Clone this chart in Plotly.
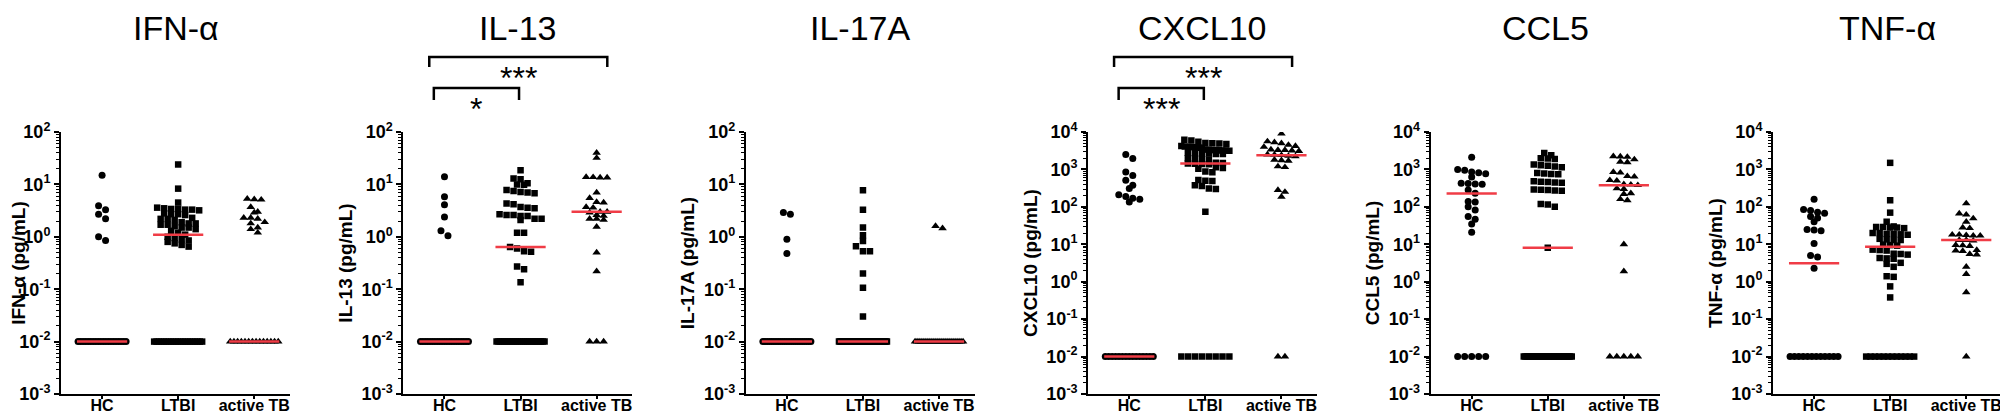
import numpy as np
import plotly.graph_objects as go

# groups on the x axis of every panel
groups = ["HC", "LTBI", "active TB"]
LOD = 0.01  # values below detection are plotted at 10^-2

# ---- IFN-alpha ----
ifna_hc = [15, 3.9, 3.3, 2.7, 2.2, 1.0, 0.85]
ifna_ltbi = [24, 8.3, 4.5, 3.6, 3.5, 3.4, 3.4, 3.3, 3.3, 3.2, 2.8, 2.7, 2.7, 2.6, 2.3,
             2.2, 2.2, 2.1, 1.9, 1.8, 1.8, 1.7, 1.7, 1.6, 1.5, 1.5, 1.4, 1.3, 1.2, 1.1,
             1.0, 0.95, 0.9, 0.85, 0.8, 0.75, 0.7, 0.65]
ifna_tb = [5.3, 5.2, 5.1, 3.7, 3.0, 2.9, 2.3, 2.3, 2.2, 1.9, 1.8, 1.5, 1.4, 1.2]
ifna_lod_n = [20, 21, 14]
ifna_median = [0.01, 1.1, 0.01]

# ---- IL-13 ----
il13_hc = [14, 5.8, 4.1, 2.4, 1.3, 1.05]
il13_ltbi = [18.6, 13, 12.5, 10.5, 10, 9.8, 7.8, 7.5, 7.2, 7, 6.8, 4.3, 4.2, 3.7, 3.6, 3.5,
             2.7, 2.6, 2.6, 2.5, 2.5, 2.2, 2.2, 2.1, 1.2, 1.2, 0.64, 0.6, 0.53, 0.52, 0.27,
             0.24, 0.135]
il13_tb = [40, 32, 13.8, 13.5, 13.5, 13.7, 7, 5.5, 4.6, 4.5, 3.7, 3.6, 3.0, 3.0, 2.9, 2.6,
           2.5, 2.2, 2.2, 2.1, 1.55, 0.5, 0.22]
il13_lod_n = [21, 26, 3]
il13_median = [0.01, 0.64, 3.0]

# ---- IL-17A ----
il17_hc = [2.9, 2.7, 0.9, 0.48]
il17_ltbi = [7.7, 3.3, 1.5, 1.07, 0.83, 0.66, 0.53, 0.53, 0.2, 0.107, 0.03]
il17_tb = [1.6, 1.45]
il17_lod_n = [23, 48, 25]
il17_median = [0.01, 0.01, 0.01]

# ---- CXCL10 ----
cxcl_hc = [2500, 1950, 860, 690, 510, 380, 310, 210, 190, 170, 160, 135]
cxcl_ltbi = [6200, 5900, 5500, 5100, 5000, 4900, 4800, 4200, 4100, 4000, 4000, 3900, 3800,
             3800, 3400, 3350, 3300, 3300, 3250, 3200, 3200, 3150, 2800, 2750, 2700, 2650,
             2600, 2600, 2000, 1950, 1900, 1850, 1500, 1480, 1450, 1420, 1400, 1380, 1150,
             1100, 1050, 880, 840, 520, 500, 490, 380, 360, 310, 300, 74]
cxcl_tb = [9000, 5600, 5300, 5000, 4500, 4200, 4000, 3400, 3300, 3300, 3200, 3100, 2500,
           2450, 2400, 2300, 2250, 1800, 1750, 1700, 1200, 1150, 280, 250, 185]
cxcl_lod_n = [15, 8, 2]
cxcl_median = [0.01, 1430, 2400]

# ---- CCL5 ----
ccl5_hc = [2100, 1000, 950, 860, 820, 770, 630, 430, 420, 410, 400, 280, 230, 140, 135, 100,
           82, 55, 47, 35, 21]
ccl5_ltbi = [2750, 2400, 2000, 1950, 1900, 1350, 1300, 1250, 1200, 1150, 800, 780, 760, 740,
             480, 470, 460, 450, 440, 290, 285, 280, 275, 270, 120, 115, 100, 8.1]
ccl5_tb = [2250, 2200, 2150, 1850, 1600, 1550, 850, 820, 660, 640, 515, 500, 400, 390, 380,
           310, 300, 230, 220, 160, 150, 10, 1.9]
ccl5_lod_n = [5, 30, 5]
ccl5_median = [228, 8.1, 380]

# ---- TNF-alpha ----
tnf_hc = [160, 85, 80, 72, 68, 55, 50, 40, 25, 24, 23, 10.5, 5, 4.6, 2.3]
tnf_ltbi = [1500, 150, 70, 40, 30, 29, 29, 28, 28, 27, 20, 20, 19, 19, 18.5, 18, 14, 13.5,
            13, 13, 9.8, 9.5, 9.2, 7.2, 7, 6.8, 5.6, 5.5, 5.3, 4.3, 4.2, 4.1, 3.2, 3.0, 2.5,
            1.4, 1.35, 0.75, 0.38]
tnf_tb = [123, 66, 62, 49, 40, 28, 27, 18, 18, 17.5, 17, 17, 13, 13, 12.5, 9.5, 9.3, 9, 7,
          6.8, 6.6, 5.5, 5.3, 2.5, 1.6, 0.52]
tnf_lod_n = [12, 12, 1]
tnf_median = [3.1, 8.6, 13]

# significance brackets: (group a, group b, label)
il13_sig = [(0, 2, "***"), (0, 1, "*")]
cxcl_sig = [(0, 2, "***"), (0, 1, "***")]

panels = [
    ("IFN-α", "IFN-α (pg/mL)", [ifna_hc, ifna_ltbi, ifna_tb], ifna_lod_n, ifna_median, 2, []),
    ("IL-13", "IL-13 (pg/mL)", [il13_hc, il13_ltbi, il13_tb], il13_lod_n, il13_median, 2, il13_sig),
    ("IL-17A", "IL-17A (pg/mL)", [il17_hc, il17_ltbi, il17_tb], il17_lod_n, il17_median, 2, []),
    ("CXCL10", "CXCL10 (pg/mL)", [cxcl_hc, cxcl_ltbi, cxcl_tb], cxcl_lod_n, cxcl_median, 4, cxcl_sig),
    ("CCL5", "CCL5 (pg/mL)", [ccl5_hc, ccl5_ltbi, ccl5_tb], ccl5_lod_n, ccl5_median, 4, []),
    ("TNF-α", "TNF-α (pg/mL)", [tnf_hc, tnf_ltbi, tnf_tb], tnf_lod_n, tnf_median, 4, []),
]

W, H = 2008, 415
OFF = 8  # the page body margin shifts the figure by 8px
FONT = "Arial, Liberation Sans, sans-serif"
symbols = ["circle", "square", "triangle-up"]
sizes = [7, 6.5, 7.5]
RED = "#f03c46"

# layout geometry (page pixels)
AX0, PANEL_STEP, PLOT_W = 61, 342.4, 229
PLOT_TOP, PLOT_BOT = 132, 394
PLOT_H = PLOT_BOT - PLOT_TOP
XR = [-0.54, 2.47]
CAT_PX = PLOT_W / (XR[1] - XR[0])
ROW_PX, SPACING, MAX_W = 5.0, 7.0, 48.0


def px_x(x):
    return (x - OFF) / W


def px_y(y):
    return 1 - (y - OFF) / H


def swarm(values, px_per_dec, center):
    v = np.sort(np.asarray(values, float))[::-1]
    yp = np.log10(v) * px_per_dec
    xs = np.zeros(len(v))
    i = 0
    while i < len(v):
        j = i
        while j + 1 < len(v) and yp[i] - yp[j + 1] < ROW_PX:
            j += 1
        k = j - i + 1
        step = SPACING if k < 2 else min(SPACING, MAX_W / (k - 1))
        offs = (np.arange(k) - (k - 1) / 2) * step
        xs[i:j + 1] = center + offs / CAT_PX
        i = j + 1
    return xs, v


fig = go.Figure()
layout = {}
annotations = []
shapes = []
ydom = [px_y(PLOT_BOT), px_y(PLOT_TOP)]

for p, (title, ytitle, data, lod_n, med, top, sig) in enumerate(panels):
    n = p + 1
    xa = "x" if n == 1 else f"x{n}"
    ya = "y" if n == 1 else f"y{n}"
    px_per_dec = PLOT_H / (top + 3)
    x0 = px_x(AX0 + PANEL_STEP * p)
    x1 = px_x(AX0 + PANEL_STEP * p + PLOT_W)

    for g in range(3):
        vals = list(data[g]) + [LOD] * lod_n[g]
        xs, ys = swarm(vals, px_per_dec, g)
        fig.add_trace(go.Scatter(
            x=xs, y=ys, mode="markers", xaxis=xa, yaxis=ya, showlegend=False,
            marker=dict(symbol=symbols[g], size=sizes[g], color="black", line_width=0)))
    for g in range(3):
        fig.add_trace(go.Scatter(
            x=[g - 0.33, g + 0.33], y=[med[g], med[g]], mode="lines", xaxis=xa, yaxis=ya,
            showlegend=False, line=dict(color=RED, width=2.5)))

    tickv = [10.0 ** e for e in range(-3, top + 1)]
    tickt = [f"10<sup>{e}</sup>" for e in range(-3, top + 1)]
    minor_v = [m * 10.0 ** e for e in range(-3, top) for m in range(2, 10)]

    layout[f"xaxis{n if n > 1 else ''}"] = dict(
        domain=[x0, x1], range=XR, anchor=ya, tickvals=[0, 1, 2], ticktext=groups,
        showline=True, linecolor="black", linewidth=2, ticks="outside", ticklen=3,
        tickwidth=1.5, tickcolor="black", showgrid=False, zeroline=False, automargin=False,
        ticklabelstandoff=-7,
        tickfont=dict(family=FONT, size=16, color="black", weight="bold"))
    layout[f"yaxis{n if n > 1 else ''}"] = dict(
        domain=ydom, type="log", range=[-3, top], anchor=xa, tickvals=tickv, ticktext=tickt,
        showline=True, linecolor="black", linewidth=2, ticks="outside", ticklen=5,
        tickwidth=1.5, tickcolor="black", showgrid=False, zeroline=False, automargin=False,
        minor=dict(tickvals=minor_v, ticks="outside", ticklen=3, tickwidth=1, tickcolor="black"),
        tickfont=dict(family=FONT, size=18, color="black", weight="bold"),
        title=dict(text=ytitle, standoff=4,
                   font=dict(family=FONT, size=19, color="black", weight="bold")))

    # panel title, kept inside the figure box
    annotations.append(dict(
        text=title, x=(x0 + x1) / 2, y=1, xref="paper", yref="paper",
        showarrow=False, xanchor="center", yanchor="top", borderpad=0,
        font=dict(family=FONT, size=34, color="black")))

    pads = [(-0.2, 0.14), (-0.14, -0.02)]
    tops = [57, 88]
    arms = [10, 12]
    for lvl, (a, b, lab) in enumerate(sig):
        left, right = a + pads[lvl][0], b + pads[lvl][1]
        yt = px_y(tops[lvl])
        yb = px_y(tops[lvl] + arms[lvl])
        shapes.append(dict(
            type="path", xref=xa, yref="paper",
            path=f"M {left},{yb} L {left},{yt} L {right},{yt} L {right},{yb}",
            line=dict(color="black", width=2.5)))
        annotations.append(dict(
            text=lab, x=(left + right) / 2, y=px_y(tops[lvl] + 21), xref=xa,
            yref="paper", showarrow=False, xanchor="center", yanchor="middle",
            font=dict(family=FONT, size=32, color="black")))

fig.update_layout(
    template="none",
    width=W, height=H, margin=dict(l=0, r=0, t=0, b=0),
    paper_bgcolor="white", plot_bgcolor="white",
    annotations=annotations, shapes=shapes, **layout)

fig.write_html("out.html")
